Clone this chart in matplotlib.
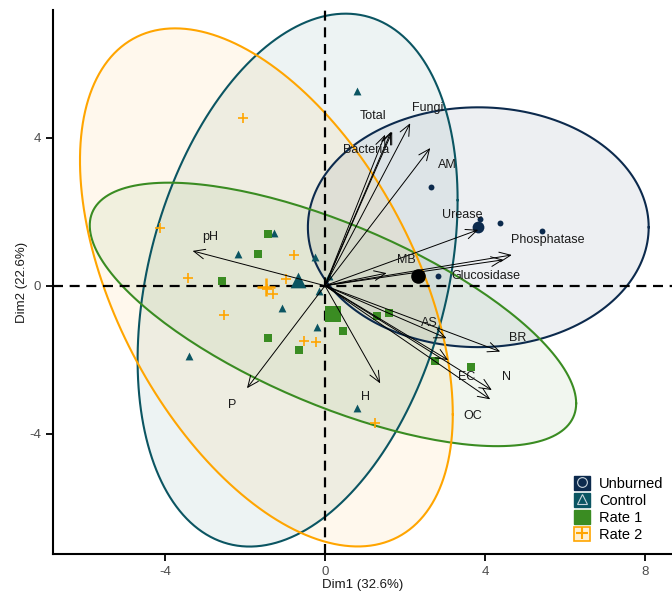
import numpy as np
import matplotlib
matplotlib.use("Agg")
from matplotlib import pyplot as plt
from matplotlib.patches import Patch
from matplotlib.lines import Line2D

plt.rcParams['font.family'] = ['Liberation Sans', 'DejaVu Sans']
plt.rcParams['axes.unicode_minus'] = False

# individuals (Dim1, Dim2) by group
unb_x = [2.66, 4.38, 5.42, 3.88, 2.82]
unb_y = [2.68, 1.69, 1.48, 1.80, 0.25]
ctl_x = [0.80, -1.27, -2.18, -0.25, -1.08, -0.21, -3.41, -0.14, 0.79, 0.10]
ctl_y = [5.26, 1.42, 0.86, 0.77, -0.59, -1.11, -1.90, -0.14, -3.31, 0.25]
r1_x = [-1.42, -1.68, -2.57, -1.43, -0.65, 0.46, 1.29, 1.59, 2.75, 3.65]
r1_y = [1.40, 0.87, 0.12, -1.42, -1.74, -1.22, -0.81, -0.74, -2.03, -2.19]
r2_x = [-2.04, -0.77, -4.13, -3.42, -1.44, -1.31, -0.98, -2.53, -0.52, -0.23, 1.25]
r2_y = [4.54, 0.83, 1.57, 0.22, -0.10, -0.23, 0.18, -0.80, -1.49, -1.53, -3.70]

groups = ["Unburned", "Control", "Rate 1", "Rate 2"]
# ellipse spread: half extent in x, half extent in y, correlation
ell_sx = [4.26, 4.00, 6.08, 4.66]
ell_sy = [3.24, 7.20, 3.56, 7.00]
ell_rho = [0.0, 0.3, -0.675, -0.49]

# extra supplementary point
sup_x = [2.33]
sup_y = [0.25]

# variables (arrow tips) and label positions
var_names = ["Bacteria", "Total", "", "Fungi", "AM", "Urease", "Phosphatase", "Glucosidase",
             "MB", "AS", "BR", "EC", "N", "OC", "H", "P", "pH"]
var_x = [1.50, 1.65, 1.68, 2.13, 2.63, 3.83, 4.67, 4.46, 1.54, 3.04, 4.38, 3.08, 4.17, 4.13, 1.38, -1.95, -3.31]
var_y = [4.08, 4.16, 4.16, 4.39, 3.72, 1.51, 0.83, 0.70, 0.34, -1.42, -1.78, -2.01, -2.82, -3.07, -2.64, -2.77, 0.94]
lab_x = [1.04, 1.19, 0, 2.57, 3.07, 3.43, 5.58, 4.02, 2.04, 2.61, 4.81, 3.54, 4.53, 3.69, 1.00, -2.33, -2.88]
lab_y = [3.67, 4.59, 0, 4.80, 3.26, 1.91, 1.24, 0.25, 0.70, -1.01, -1.42, -2.46, -2.48, -3.52, -3.01, -3.22, 1.31]

colors = ["#0c2a4d", "#0b5562", "#3a8c22", "#ffa500"]
markers = ["o", "^", "s", "+"]
xs = [unb_x, ctl_x, r1_x, r2_x]
ys = [unb_y, ctl_y, r1_y, r2_y]

fig = plt.figure(figsize=(6.72, 6.0), dpi=100)
ax = fig.add_axes([53 / 672, 46 / 600, 1 - 53 / 672, 544 / 600])

t = np.linspace(0, 2 * np.pi, 200)
for i in range(4):
    cx, cy = np.mean(xs[i]), np.mean(ys[i])
    r = ell_rho[i]
    ex = cx + ell_sx[i] * np.cos(t)
    ey = cy + ell_sy[i] * (r * np.cos(t) + np.sqrt(1 - r * r) * np.sin(t))
    ax.fill(ex, ey, color=colors[i], alpha=0.07, lw=0, zorder=1)
    ax.plot(ex, ey, color=colors[i], lw=1.5, zorder=2)

ax.axhline(0, color="black", lw=1.6, ls=(0, (4.5, 3)), zorder=3)
ax.axvline(0, color="black", lw=1.6, ls=(0, (4.5, 3)), zorder=3)

for i in range(4):
    if markers[i] == "+":
        ax.scatter(xs[i], ys[i], marker="+", s=60, color=colors[i], lw=1.2, zorder=4)
        ax.scatter([np.mean(xs[i])], [np.mean(ys[i])], marker="+", s=150, color=colors[i], lw=1.8, zorder=4)
    else:
        sz = 18 if markers[i] == "o" else 32
        ax.scatter(xs[i], ys[i], marker=markers[i], s=sz, color=colors[i], lw=0, zorder=4)
        ax.scatter([np.mean(xs[i])], [np.mean(ys[i])], marker=markers[i], s=sz * 4, color=colors[i], lw=0, zorder=4)

ax.scatter(sup_x, sup_y, s=90, color="black", zorder=4)

for name, x, y, lx, ly in zip(var_names, var_x, var_y, lab_x, lab_y):
    ax.annotate("", xy=(x, y), xytext=(0, 0),
                arrowprops=dict(arrowstyle="->,head_length=0.8,head_width=0.35", color="black", lw=0.7,
                                shrinkA=0, shrinkB=0), zorder=5)
    if name:
        ax.text(lx, ly, name, fontsize=9, ha="center", va="center", color="#1a1a1a", zorder=6)

ax.set_xlim(-6.8, 8.675)
ax.set_ylim(-7.25, 7.45)
ax.set_xticks([-4, 0, 4, 8])
ax.set_yticks([-4, 0, 4])
ax.tick_params(colors="black", labelcolor="#4d4d4d", labelsize=9.5, length=5, width=1.3)
for s in ["top", "right"]:
    ax.spines[s].set_visible(False)
for s in ["left", "bottom"]:
    ax.spines[s].set_linewidth(1.5)
ax.set_xlabel("Dim1 (32.6%)", fontsize=9.5, color="#1a1a1a", labelpad=1)
ax.set_ylabel("Dim2 (22.6%)", fontsize=9.5, color="#1a1a1a", labelpad=1)

handles = []
for i in range(4):
    if i == 3:
        p = Patch(facecolor="#fff0d0", edgecolor=colors[i], lw=1.2)
    else:
        p = Patch(facecolor=colors[i], edgecolor=colors[i])
    if i == 2:
        handles.append(p)
    elif i == 3:
        handles.append((p, Line2D([], [], marker="+", color=colors[i], ls="", ms=9, mew=1.5)))
    else:
        handles.append((p, Line2D([], [], marker=markers[i], color=colors[i], mec="#c8d4dc",
                                  mew=0.8, ls="", ms=7)))
ax.legend(handles, groups, loc="lower right", bbox_to_anchor=(1.0, 0.006), frameon=False,
          fontsize=10.5, handlelength=1.1, handleheight=1.1, handletextpad=0.6, labelspacing=0.15,
          borderaxespad=0.2)

fig.savefig("out.png", dpi=100)
